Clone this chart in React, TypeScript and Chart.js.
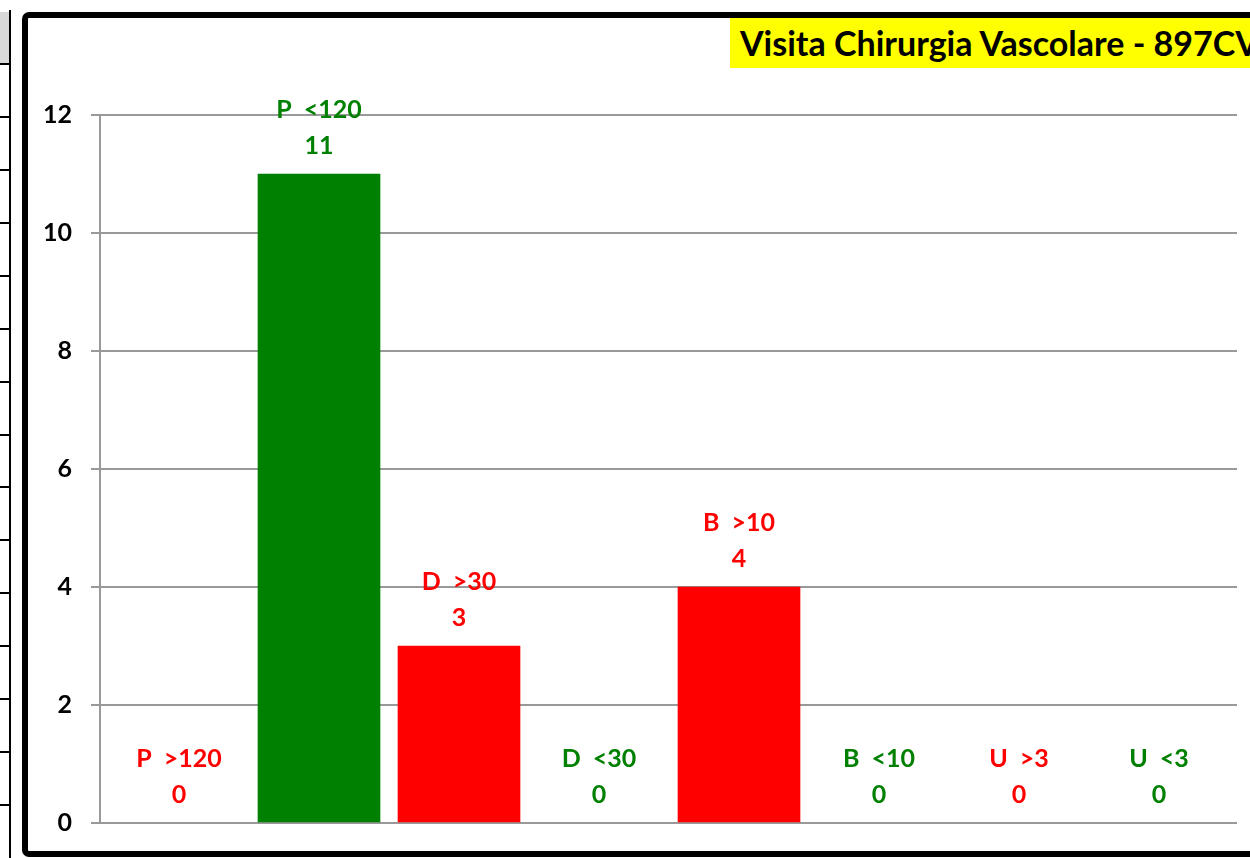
import React, { useEffect, useRef } from "react";
import { Chart, registerables } from "chart.js";

Chart.register(...registerables);

const categories = ["P  >120", "P  <120", "D  >30", "D  <30", "B  >10", "B  <10", "U  >3", "U  <3"];
const values = [0, 11, 3, 0, 4, 0, 0, 0];
const barColors = ["#FF0000", "#008000", "#FF0000", "#008000", "#FF0000", "#008000", "#FF0000", "#008000"];
const yTicks = [0, 2, 4, 6, 8, 10, 12];
const titleText = "Visita Chirurgia Vascolare - 897CV";

const FONT = "Lato, 'Open Sans', sans-serif";

const labelPlugin = {
  id: "barLabels",
  afterDatasetsDraw(chart: any) {
    const ctx = chart.ctx;
    const meta = chart.getDatasetMeta(0);
    ctx.save();
    ctx.font = `bold 25px ${FONT}`;
    ctx.textAlign = "center";
    ctx.textBaseline = "middle";
    meta.data.forEach((el: any, i: number) => {
      ctx.fillStyle = barColors[i];
      ctx.fillText(categories[i], el.x, el.y - 64);
      ctx.fillText(String(values[i]), el.x, el.y - 28);
    });
    ctx.restore();
  },
};

export default function App() {
  const ref = useRef<HTMLCanvasElement>(null);
  useEffect(() => {
    if (!ref.current) return;
    const chart = new Chart(ref.current, {
      type: "bar",
      data: {
        datasets: [
          {
            data: values.map((v, i) => ({ x: i, y: v })),
            backgroundColor: values.map((v, i) => (v === 0 ? "rgba(0,0,0,0)" : barColors[i])),
            borderWidth: 0,
            barThickness: 122,
          },
        ],
      },
      options: {
        animation: false,
        responsive: false,
        maintainAspectRatio: false,
        layout: { padding: { left: 0, right: 13, top: 115, bottom: 35 } },
        plugins: { legend: { display: false }, tooltip: { enabled: false }, title: { display: false } },
        scales: {
          x: {
            type: "linear",
            min: -0.5643,
            max: 7.5571,
            offset: false,
            display: false,
          },
          y: {
            min: 0,
            max: 12,
            afterFit: (s: any) => {
              s.width = 100;
            },
            afterBuildTicks: (s: any) => {
              s.ticks = yTicks.map((v) => ({ value: v }));
            },
            ticks: {
              stepSize: 2,
              padding: 19,
              color: "#000",
              font: { family: FONT, weight: "bold", size: 25 },
            },
            grid: { color: "#999999", lineWidth: 2, tickLength: 9 },
            border: { display: true, color: "#999999", width: 2 },
          },
        },
      },
      plugins: [labelPlugin],
    } as any);
    return () => chart.destroy();
  }, []);

  const rows = Array.from({ length: 15 }, (_, i) => i);

  return (
    <div style={{ position: "fixed", left: 0, top: 0, width: 1250, height: 858, overflow: "hidden", background: "#fff" }}>
      <div style={{ position: "absolute", left: 0, top: 12, width: 9, height: 52, background: "#d9d9d9" }} />
      <div style={{ position: "absolute", left: 9, top: 10, width: 2, height: 848, background: "#000" }} />
      {rows.map((i) => (
        <div key={i} style={{ position: "absolute", left: 0, top: 63 + i * 52.93, width: 10, height: 2, background: "#000" }} />
      ))}
      <div
        style={{
          position: "absolute",
          left: 22,
          top: 12,
          width: 1400,
          height: 845,
          boxSizing: "border-box",
          border: "6px solid #000",
          borderRadius: 7,
        }}
      />
      <canvas ref={ref} width={1250} height={858} style={{ position: "absolute", left: 0, top: 0, width: 1250, height: 858 }} />
      <div
        style={{
          position: "absolute",
          left: 730,
          top: 18,
          width: 600,
          height: 50,
          background: "#FFFF00",
          fontFamily: FONT,
          fontWeight: "bold",
          fontSize: 34,
          lineHeight: "50px",
          paddingLeft: 10,
          boxSizing: "border-box",
          whiteSpace: "nowrap",
          color: "#000",
        }}
      >
        {titleText}
      </div>
    </div>
  );
}
